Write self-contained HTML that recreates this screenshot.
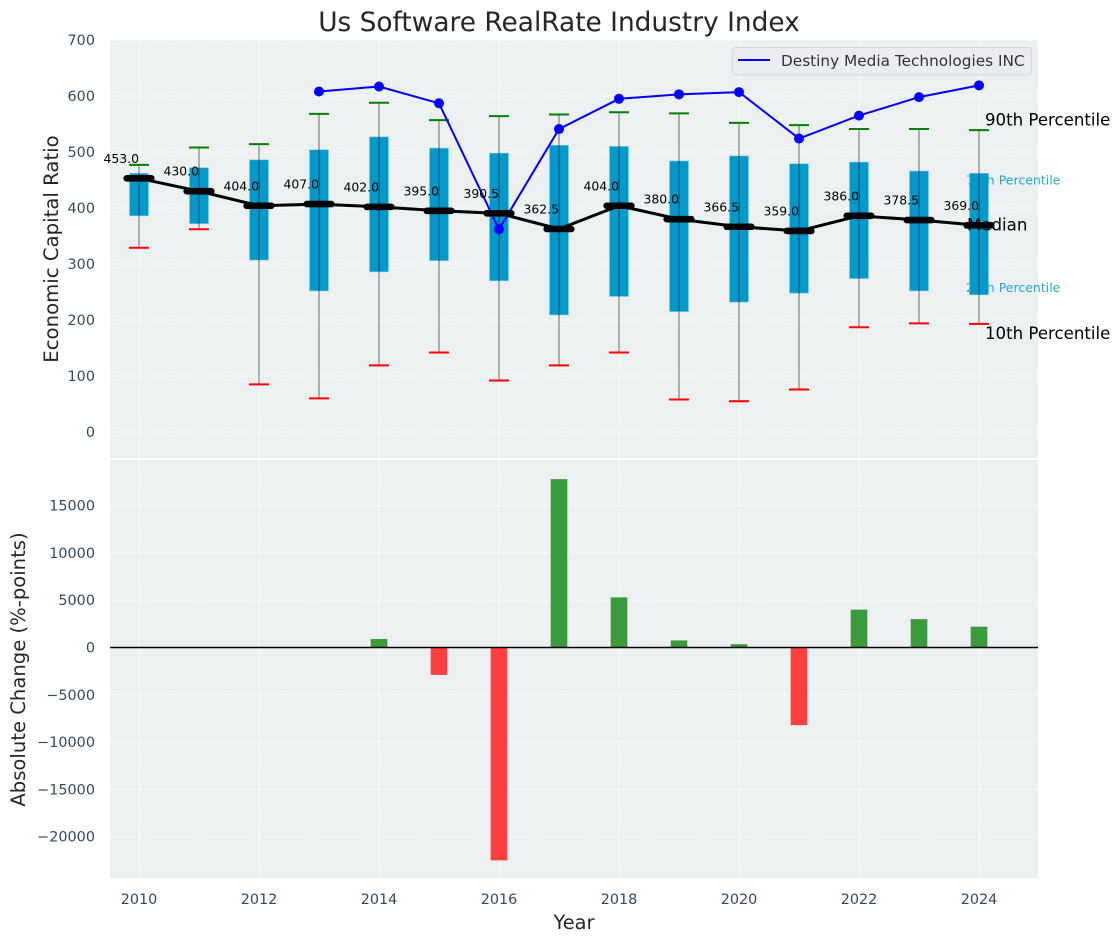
<!DOCTYPE html>
<html lang="en">
<head>
<meta charset="utf-8">
<title>Us Software RealRate Industry Index</title>
<style>
html,body{margin:0;padding:0;background:#fff;}
svg{display:block;font-family:"DejaVu Sans","Liberation Sans",sans-serif;}
</style>
</head>
<body>
<svg id="chart" xmlns="http://www.w3.org/2000/svg" width="1120" height="942" viewBox="0 0 1120 942">
  <rect x="110" y="40" width="928" height="418" fill="#ecf0f1"/>
  <rect x="110" y="460" width="928" height="418" fill="#ecf0f1"/>
  <g id="grid"></g>
  <g id="under"></g>
  <g id="boxes"></g>
  <g id="whiskers"></g>
  <g id="company"></g>
  <g id="medians"></g>
  <g id="over"></g>
  <g id="bars"></g>
  <line x1="110" x2="1038" y1="647.5" y2="647.5" stroke="#000" stroke-width="1.4"/>
  <g id="ticks"></g>
  <text x="559" y="31" text-anchor="middle" font-size="26.4" fill="#262626">Us Software RealRate Industry Index</text>
  <text transform="translate(58,249) rotate(-90)" text-anchor="middle" font-size="19.7" fill="#262626">Economic Capital Ratio</text>
  <text transform="translate(25,669.5) rotate(-90)" text-anchor="middle" font-size="19.6" fill="#262626">Absolute Change (%-points)</text>
  <text x="574" y="929" text-anchor="middle" font-size="19.4" fill="#262626">Year</text>
  <g>
    <rect x="732.5" y="47.5" width="299" height="27.5" rx="3" fill="#eaecf1" stroke="#d6d8dc"/>
    <line x1="738" x2="770" y1="60" y2="60" stroke="#0000ff" stroke-width="2"/>
    <text x="781" y="66" font-size="15.3" fill="#333">Destiny Media Technologies INC</text>
  </g>
</svg>
<script>
var years = [2010,2011,2012,2013,2014,2015,2016,2017,2018,2019,2020,2021,2022,2023,2024];
var p90 = [477,508,514,568,588,557,564,567,571,569,552,548,541,541,539];
var q3 = [462,472,486,504,527,507,498,512,510,484,493,479,482,466,462];
var medianValues = [453,430,404,407,402,395,390.5,362.5,404,380,366.5,359,386,378.5,369];
var q1 = [386,372,307,252,286,306,270,209,242,215,232,248,274,252,245];
var p10 = [329,362,85,60,119,142,92,119,142,58,55,76,187,194,193];
var companyValues = [null,null,null,608,617,587,362,541,595,603,607,524,565,598,619];
var changeValues = [null,null,null,null,900,-2900,-22500,17800,5300,750,350,-8200,4000,3000,2200];
var xTickYears = [2010,2012,2014,2016,2018,2020,2022,2024];
var topTicks = [0,100,200,300,400,500,600,700];
var bottomTicks = [-20000,-15000,-10000,-5000,0,5000,10000,15000];

var NS = 'http://www.w3.org/2000/svg';
function xAxis(y){ return 139 + 60 * (y - 2010); }
function yTop(v){ return 432 - 0.56 * v; }
function yBottom(v){ return 647.5 - 0.00946 * v; }
function g(id){ return document.getElementById(id); }
function mk(tag, parent, attrs){
  var el = document.createElementNS(NS, tag);
  for (var k in attrs) el.setAttribute(k, attrs[k]);
  parent.appendChild(el);
  return el;
}
var el;
var gridDash = '5 2';

// grid
xTickYears.forEach(function(y){
  var top = mk('line', g('grid'), {x1:xAxis(y),x2:xAxis(y),y1:40,y2:458,stroke:'#fff','stroke-width':1,'stroke-dasharray':gridDash,'stroke-opacity':0.9});
  
  
  var bot = mk('line', g('grid'), {x1:xAxis(y),x2:xAxis(y),y1:460,y2:878,stroke:'#fff','stroke-width':1,'stroke-dasharray':gridDash,'stroke-opacity':0.9});
  
  
  var t = mk('text', g('ticks'), {x:xAxis(y),y:904,'text-anchor':'middle','font-size':14.4,fill:'#34495e'});
  t.textContent = String(y);
  
  
});
topTicks.forEach(function(v){
  var l = mk('line', g('grid'), {x1:110,x2:1038,y1:yTop(v),y2:yTop(v),stroke:'#fff','stroke-width':1,'stroke-dasharray':gridDash,'stroke-opacity':0.9});
  
  
  var t = mk('text', g('ticks'), {x:95,y:yTop(v)+5,'text-anchor':'end','font-size':14.4,fill:'#34495e'});
  t.textContent = String(v);
  
  
});
bottomTicks.forEach(function(v){
  var l = mk('line', g('grid'), {x1:110,x2:1038,y1:yBottom(v),y2:yBottom(v),stroke:'#fff','stroke-width':1,'stroke-dasharray':gridDash,'stroke-opacity':0.9});
  
  
  var t = mk('text', g('ticks'), {x:95,y:yBottom(v)+5,'text-anchor':'end','font-size':14.4,fill:'#34495e'});
  t.textContent = String(v).replace('-', '\u2212');
  
  
});

// annotations anchored to the latest year
var last = years.length - 1;
var lx = xAxis(years[last]);
el = mk('text', g('under'), {x:lx-13,y:yTop(q3[last])+11,'font-size':12.5,fill:'#0099cc','fill-opacity':0.85});
el.textContent = '75th Percentile';


el = mk('text', g('under'), {x:lx-13,y:yTop(q1[last])-3,'font-size':12.5,fill:'#0099cc','fill-opacity':0.85});
el.textContent = '25th Percentile';


el = mk('text', g('over'), {x:lx+6,y:yTop(p90[last])-4.5,'font-size':16.6,fill:'#000'});
el.textContent = '90th Percentile';


el = mk('text', g('over'), {x:lx-12,y:yTop(medianValues[last])+5,'font-size':16.6,fill:'#000'});
el.textContent = 'Median';


el = mk('text', g('over'), {x:lx+6,y:yTop(p10[last])+15,'font-size':16.6,fill:'#000'});
el.textContent = '10th Percentile';



// boxes and whiskers
years.forEach(function(y, i){
  var x = xAxis(y);
  var b = mk('rect', g('boxes'), {x:x-9.5,y:yTop(q3[i]),width:19,height:yTop(q1[i])-yTop(q3[i]),fill:'#0099cc',stroke:'#7fcce5','stroke-width':0.6});
  
  
  var w = mk('line', g('whiskers'), {x1:x,x2:x,y1:yTop(p90[i]),y2:yTop(p10[i]),stroke:'#000','stroke-opacity':0.5,'stroke-width':1.1});
  
  
  var cu = mk('line', g('whiskers'), {x1:x-10,x2:x+10,y1:yTop(p90[i]),y2:yTop(p90[i]),stroke:'#008000','stroke-width':2});
  
  
  var cl = mk('line', g('whiskers'), {x1:x-10,x2:x+10,y1:yTop(p10[i]),y2:yTop(p10[i]),stroke:'#ff0000','stroke-width':2});
  
  
});

// company series
var companyPts = [];
years.forEach(function(y, i){
  if (companyValues[i] !== null) companyPts.push(xAxis(y) + ',' + yTop(companyValues[i]));
});
el = mk('polyline', g('company'), {points:companyPts.join(' '),fill:'none',stroke:'#0000ff','stroke-width':2,'stroke-linejoin':'round'});


years.forEach(function(y, i){
  if (companyValues[i] === null) return;
  var c = mk('circle', g('company'), {cx:xAxis(y),cy:yTop(companyValues[i]),r:5,fill:'#0000ff'});
  
  
});

// medians
var medianPts = years.map(function(y, i){ return xAxis(y) + ',' + yTop(medianValues[i]); });
el = mk('polyline', g('medians'), {points:medianPts.join(' '),fill:'none',stroke:'#000','stroke-width':3,'stroke-linejoin':'round'});


years.forEach(function(y, i){
  var x = xAxis(y), my = yTop(medianValues[i]);
  var m = mk('line', g('medians'), {x1:x-12.3,x2:x+12.3,y1:my,y2:my,stroke:'#000','stroke-width':6.6,'stroke-linecap':'round'});
  
  
  var t = mk('text', g('medians'), {x:x,y:my-15.5,'text-anchor':'end','font-size':12.4,fill:'#000'});
  t.textContent = medianValues[i].toFixed(1);
  
  
});

// change bars
years.forEach(function(y, i){
  var v = changeValues[i];
  if (v === null) return;
  var y0 = yBottom(Math.max(v, 0)), y1 = yBottom(Math.min(v, 0));
  var b = mk('rect', g('bars'), {x:xAxis(y)-8.3,y:y0,width:16.6,height:y1-y0,fill:v >= 0 ? '#3a9b3c' : '#ff3f3f'});
  
  
});
</script>
</body>
</html>
